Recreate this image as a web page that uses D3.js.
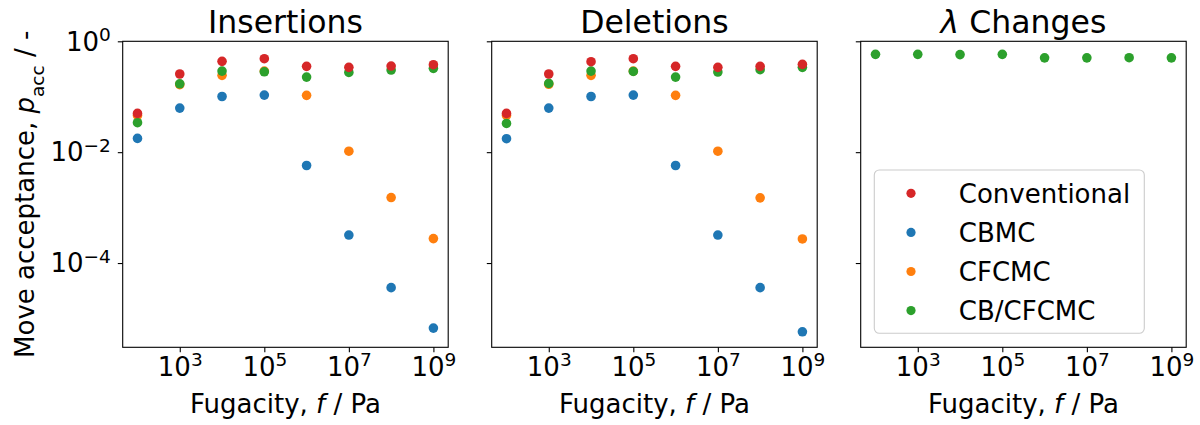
<!DOCTYPE html>
<html>
<head>
<meta charset="utf-8">
<script src="https://cdn.jsdelivr.net/npm/d3@7"></script>
<style>
  html, body { margin: 0; padding: 0; background: #fff; }
  svg { display: block; font-family: "DejaVu Sans", sans-serif; }
</style>
</head>
<body>
<svg id="chart" width="1200" height="425"></svg>
<script>
// Fugacity values (Pa) shared by every panel
const fugacity = [1e2, 1e3, 1e4, 1e5, 1e6, 1e7, 1e8, 1e9];

// Insertion acceptance probabilities
const insConventional = [0.050, 0.257, 0.435, 0.485, 0.353, 0.339, 0.358, 0.378];
const insCBMC         = [0.0177, 0.0624, 0.101, 0.107, 0.00575, 3.2e-4, 3.6e-5, 6.7e-6];
const insCFCMC        = [0.046, 0.165, 0.243, 0.29, 0.106, 0.0104, 1.52e-3, 2.76e-4];
const insCBCFCMC      = [0.034, 0.171, 0.290, 0.282, 0.226, 0.275, 0.303, 0.325];

// Deletion acceptance probabilities
const delConventional = [0.050, 0.257, 0.428, 0.485, 0.353, 0.339, 0.353, 0.384];
const delCBMC         = [0.0175, 0.0624, 0.101, 0.107, 0.00575, 3.2e-4, 3.6e-5, 5.75e-6];
const delCFCMC        = [0.046, 0.168, 0.243, 0.29, 0.106, 0.0104, 1.50e-3, 2.72e-4];
const delCBCFCMC      = [0.033, 0.174, 0.290, 0.286, 0.226, 0.279, 0.307, 0.339];

// Lambda-change acceptance (CB/CFCMC only)
const lamCBCFCMC      = [0.582, 0.582, 0.575, 0.582, 0.503, 0.503, 0.506, 0.503];

const seriesNames  = ["Conventional", "CBMC", "CFCMC", "CB/CFCMC"];
const seriesColors = ["#d62728", "#1f77b4", "#ff7f0e", "#2ca02c"];
const panelTitles  = ["Insertions", "Deletions", "Changes"];
const xTickExps    = [3, 5, 7, 9];
const yTickExps    = [0, -2, -4];

const panels = [
  { title: panelTitles[0], series: [insConventional, insCBMC, insCFCMC, insCBCFCMC] },
  { title: panelTitles[1], series: [delConventional, delCBMC, delCFCMC, delCBCFCMC] },
  { title: panelTitles[2], series: [null, null, null, lamCBCFCMC], lambda: true }
];

const svg = d3.select("#chart");
const FS = 26, TITLE_FS = 31.5;
const plotTop = 41.3, plotH = 306, plotW = 325.5;
const lefts = [122.7, 491.7, 860.7];
const drawOrder = [1, 2, 3, 0]; // CBMC, CFCMC, CB/CFCMC, then Conventional on top

const x = d3.scaleLog().domain([Math.pow(10, 1.65), Math.pow(10, 9.35)]).range([0, plotW]);
const y = d3.scaleLog().domain([Math.pow(10, -5.52), 1]).range([plotH, 0]);

function powerLabel(sel, exp) {
  sel.text(null);
  sel.append("tspan").text("10");
  sel.append("tspan").attr("dy", -9.7).attr("font-size", 18.5).text(exp < 0 ? "\u2212" + (-exp) : String(exp));
}

panels.forEach((p, i) => {
  const g = svg.append("g").attr("transform", `translate(${lefts[i]},${plotTop})`);

  // x axis
  const xa = g.append("g").attr("transform", `translate(0,${plotH})`)
    .call(d3.axisBottom(x).tickValues(xTickExps.map(e => Math.pow(10, e))).tickSize(4.9).tickSizeOuter(0).tickPadding(5));
  xa.select(".domain").remove();
  xa.selectAll(".tick line").attr("stroke", "#000").attr("stroke-width", 1.1);
  xa.selectAll(".tick text")
    .attr("font-family", "DejaVu Sans").attr("font-size", FS).attr("fill", "#000")
    .attr("dy", null).attr("y", 28.7).attr("text-anchor", "middle")
    .each(function(d) { powerLabel(d3.select(this), Math.round(Math.log10(d))); });

  // y axis
  const ya = g.append("g")
    .call(d3.axisLeft(y).tickValues(yTickExps.map(e => Math.pow(10, e))).tickSize(4.9).tickSizeOuter(0).tickPadding(7));
  ya.select(".domain").remove();
  ya.selectAll(".tick line").attr("stroke", "#000").attr("stroke-width", 1.1);
  if (i === 0) {
    ya.selectAll(".tick text")
      .attr("font-family", "DejaVu Sans").attr("font-size", FS).attr("fill", "#000")
      .attr("dy", null).attr("y", 8.7).attr("text-anchor", "end")
      .each(function(d) { powerLabel(d3.select(this), Math.round(Math.log10(d))); });
  } else {
    ya.selectAll(".tick text").remove();
  }

  // points
  drawOrder.forEach(si => {
    const vals = p.series[si];
    if (!vals) return;
    g.append("g").selectAll("circle")
      .data(fugacity.map((f, k) => ({ f, v: vals[k] })))
      .join("circle")
      .attr("cx", d => x(d.f))
      .attr("cy", d => y(d.v))
      .attr("r", 4.8)
      .attr("fill", seriesColors[si]);
  });

  // frame
  g.append("rect").attr("x", 0).attr("y", 0).attr("width", plotW).attr("height", plotH)
    .attr("fill", "none").attr("stroke", "#000").attr("stroke-width", 1.1);

  // title
  const t = g.append("text").attr("x", plotW / 2).attr("y", -8)
    .attr("text-anchor", "middle").attr("font-size", TITLE_FS).attr("fill", "#000");
  if (p.lambda) {
    t.append("tspan").attr("font-style", "italic").text("\u03bb");
    t.append("tspan").text(" " + p.title);
  } else {
    t.text(p.title);
  }

  // x label
  const xl = g.append("text").attr("x", plotW / 2).attr("y", plotH + 65.5)
    .attr("text-anchor", "middle").attr("font-size", FS).attr("fill", "#000");
  xl.append("tspan").text("Fugacity, ");
  xl.append("tspan").attr("font-style", "italic").text("f");
  xl.append("tspan").text(" / Pa");

  // legend in the last panel
  if (p.lambda) {
    const lg = g.append("g").attr("transform", `translate(${874.3 - lefts[i]},${170 - plotTop})`);
    lg.append("rect").attr("width", 270).attr("height", 163.3).attr("rx", 5).attr("ry", 5)
      .attr("fill", "#fff").attr("fill-opacity", 0.8).attr("stroke", "#cccccc").attr("stroke-width", 1.1);
    seriesNames.forEach((name, k) => {
      const cy = 23.3 + k * 39.1;
      lg.append("circle").attr("cx", 36.7).attr("cy", cy).attr("r", 4.6).attr("fill", seriesColors[k]);
      lg.append("text").attr("x", 84.5).attr("y", cy + 9.4).attr("font-size", FS).attr("fill", "#000").text(name);
    });
  }
});

// shared y label
const yl = svg.append("text")
  .attr("transform", `translate(34,${plotTop + plotH / 2}) rotate(-90)`)
  .attr("text-anchor", "middle").attr("font-size", FS).attr("fill", "#000");
yl.append("tspan").text("Move acceptance, ");
yl.append("tspan").attr("font-style", "italic").text("p");
yl.append("tspan").attr("font-size", 18.5).attr("dy", 10).text("acc");
yl.append("tspan").attr("dy", -10).text(" / -");
</script>
</body>
</html>
